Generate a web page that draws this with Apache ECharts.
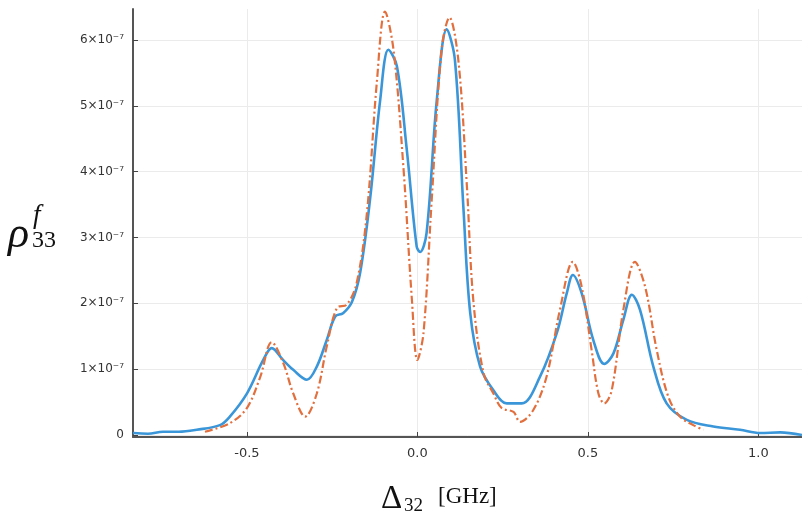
<!DOCTYPE html>
<html>
<head>
<meta charset="utf-8">
<script src="https://cdn.jsdelivr.net/npm/echarts@6/dist/echarts.min.js"></script>
<style>html,body{margin:0;padding:0;background:#fff}#c{width:802px;height:518px}</style>
</head>
<body>
<div id="c"></div>
<script>
// values in units of 1e-7
const blueX = [-0.834,-0.79,-0.746,-0.70,-0.647,-0.579,-0.55,-0.5,-0.452,-0.427,-0.394,-0.364,-0.324,-0.295,-0.266,-0.241,-0.218,-0.192,-0.168,-0.139,-0.109,-0.085,-0.06,-0.031,-0.002,0.008,0.027,0.057,0.086,0.11,0.135,0.155,0.184,0.223,0.262,0.306,0.36,0.409,0.438,0.456,0.482,0.516,0.548,0.575,0.604,0.629,0.653,0.692,0.731,0.79,0.868,0.946,1.005,1.064,1.128];
const blueY = [0.03,0.02,0.05,0.05,0.08,0.15,0.28,0.63,1.14,1.32,1.14,0.99,0.84,1.04,1.44,1.80,1.85,2.02,2.46,3.57,5.09,5.85,5.6,4.33,2.86,2.78,3.07,5.09,6.16,5.70,3.45,1.85,1.04,0.68,0.48,0.48,0.89,1.55,2.15,2.43,2.15,1.44,1.08,1.24,1.75,2.13,1.90,1.04,0.48,0.23,0.13,0.08,0.03,0.04,0.0];
const orangeX = [-0.623,-0.55,-0.5,-0.461,-0.427,-0.393,-0.364,-0.329,-0.295,-0.266,-0.236,-0.207,-0.178,-0.148,-0.119,-0.095,-0.07,-0.041,-0.016,0.0,0.018,0.042,0.071,0.094,0.12,0.145,0.164,0.194,0.223,0.247,0.282,0.301,0.34,0.379,0.418,0.456,0.482,0.511,0.531,0.548,0.57,0.604,0.638,0.668,0.702,0.736,0.77,0.809,0.839];
const orangeY = [0.05,0.18,0.41,0.88,1.41,1.09,0.63,0.28,0.63,1.34,1.93,1.98,2.31,3.37,5.35,6.43,5.85,4.07,2.05,1.14,1.55,3.57,5.85,6.34,5.70,3.8,2.05,0.94,0.63,0.41,0.35,0.20,0.38,0.89,1.90,2.63,2.25,1.29,0.63,0.48,0.68,1.90,2.63,2.25,1.29,0.58,0.28,0.15,0.08];
const xTicks = [-0.5, 0.0, 0.5, 1.0];
const yTicks = [0, 1, 2, 3, 4, 5, 6];

const chart = echarts.init(document.getElementById('c'));
const pair = (xs, ys) => xs.map((x, i) => [x, ys[i]]);
chart.setOption({
  animation: false,
  backgroundColor: '#fff',
  grid: {left: 133, right: 0, top: 9, bottom: 81},
  xAxis: {
    type: 'value', min: -0.834, max: 1.128,
    axisLine: {show: true, onZero: false, lineStyle: {color: '#555', width: 2}},
    axisTick: {show: true, inside: true, length: 5, customValues: xTicks, lineStyle: {color: '#444', width: 1}},
    axisLabel: {customValues: xTicks, formatter: v => v.toFixed(1), color: '#333', fontSize: 13, margin: 10, fontFamily: 'DejaVu Sans'},
    splitLine: {show: true, lineStyle: {color: '#ebebeb', width: 1}}
  },
  yAxis: {
    type: 'value', min: -0.03, max: 6.47,
    axisLine: {show: true, onZero: false, lineStyle: {color: '#555', width: 2}},
    axisTick: {show: true, inside: true, length: 5, customValues: yTicks, lineStyle: {color: '#444', width: 1}},
    axisLabel: {customValues: yTicks, formatter: v => v === 0 ? '0' : (v + '×10⁻⁷'), color: '#333', fontSize: 12, margin: 9, fontFamily: 'DejaVu Sans'},
    splitLine: {show: true, lineStyle: {color: '#ebebeb', width: 1}}
  },
  series: [
    {type: 'line', data: pair(blueX, blueY), showSymbol: false, smooth: 0.35, clip: true,
     lineStyle: {color: '#3a96d8', width: 2.6}},
    {type: 'line', data: pair(orangeX, orangeY), showSymbol: false, smooth: 0.35, clip: true,
     lineStyle: {color: '#e2703f', width: 2.2, type: [8, 3, 2, 3]}}
  ],
  graphic: [
    {type: 'text', left: 8, top: 213, style: {text: 'ρ', font: 'italic 44px "Liberation Serif"', fill: '#111'}},
    {type: 'text', left: 33, top: 202, style: {text: 'f', font: 'italic 27px "Liberation Serif"', fill: '#111'}},
    {type: 'text', left: 32, top: 229, style: {text: '33', font: '24px "Liberation Serif"', fill: '#111'}},
    {type: 'text', left: 381, top: 483, style: {text: 'Δ', font: '33px "Liberation Serif"', fill: '#111'}},
    {type: 'text', left: 404, top: 497, style: {text: '32', font: '19px "Liberation Serif"', fill: '#111'}},
    {type: 'text', left: 438, top: 485, style: {text: '[GHz]', font: '23px "Liberation Serif"', fill: '#111'}}
  ]
});
</script>
</body>
</html>
